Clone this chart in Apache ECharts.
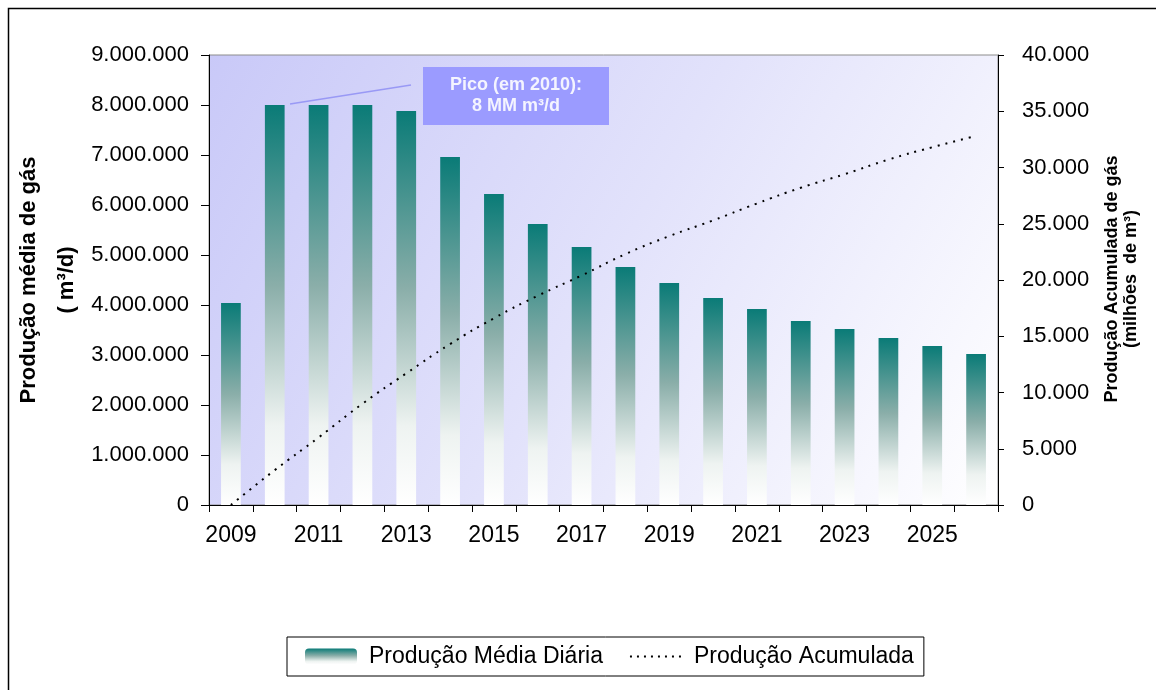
<!DOCTYPE html>
<html>
<head>
<meta charset="utf-8">
<script src="https://cdn.jsdelivr.net/npm/echarts@6/dist/echarts.min.js"></script>
<style>
html,body{margin:0;padding:0;background:#fff;}
#chart{width:1156px;height:690px;}
</style>
</head>
<body>
<div id="chart"></div>
<script>
const years = ['2009','2010','2011','2012','2013','2014','2015','2016','2017','2018','2019','2020','2021','2022','2023','2024','2025','2026'];
const dailyProduction = [4040000,8000000,8000000,8000000,7880000,6960000,6220000,5620000,5160000,4760000,4440000,4140000,3920000,3680000,3520000,3340000,3180000,3020000];
const cumulativeProduction = [0,3100,6000,9000,11700,14300,16600,18600,20400,22300,23900,25300,26800,28200,29400,30700,31800,32800];
const seriesNames = ['Produção Média Diária','Produção Acumulada'];
const leftTitle = 'Produção média de gás\n( m³/d)';
const rightTitle = 'Produção Acumulada de gás\n(milhões  de m³)';
const annotationText = 'Pico (em 2010):\n8 MM m³/d';

const FONT = '"Liberation Sans", Arial, sans-serif';
function dotFmt(v){ return String(Math.round(v)).replace(/\B(?=(\d{3})+(?!\d))/g,'.'); }

const chart = echarts.init(document.getElementById('chart'));
chart.setOption({
  animation:false,
  backgroundColor:'#ffffff',
  textStyle:{fontFamily:FONT},
  grid:{
    left:209, right:158, top:55, bottom:185, containLabel:false,
    show:true, borderColor:'#8c8c8c', borderWidth:1,
    backgroundColor:{type:'linear',x:0,y:0,x2:1,y2:1,colorStops:[
      {offset:0,color:'#c9c9f8'},{offset:0.5,color:'#e2e2fb'},{offset:1,color:'#ffffff'}]}
  },
  legend:{
    left:287, top:637,
    padding:[8,10,8,18],
    borderColor:'#000', borderWidth:1, borderRadius:0,
    backgroundColor:'#fff',
    itemWidth:52, itemHeight:16, itemGap:26,
    textStyle:{fontSize:23,color:'#000',fontFamily:FONT,padding:[0,0,0,7]},
    data:[{name:seriesNames[0]},{name:seriesNames[1],itemStyle:{opacity:0},lineStyle:{color:'#000',width:2,type:[2,5]}}]
  },
  xAxis:{
    type:'category', data:years, boundaryGap:true,
    axisLine:{lineStyle:{color:'#000',width:1}},
    axisTick:{show:true,length:7,lineStyle:{color:'#000'},alignWithLabel:false,interval:0},
    axisLabel:{interval:1,fontSize:23,color:'#000',margin:19,fontFamily:FONT},
    splitLine:{show:false}
  },
  yAxis:[{
    type:'value', min:0, max:9000000, interval:1000000,
    axisLine:{show:true,lineStyle:{color:'#000',width:1}},
    axisTick:{show:true,length:8,lineStyle:{color:'#000'}},
    axisLabel:{fontSize:22,color:'#000',margin:20,formatter:dotFmt,fontFamily:FONT},
    splitLine:{show:false}
  },{
    type:'value', min:0, max:40000, interval:5000, position:'right',
    axisLine:{show:true,lineStyle:{color:'#000',width:1}},
    axisTick:{show:true,length:6,lineStyle:{color:'#000'}},
    axisLabel:{fontSize:22,color:'#000',margin:24,formatter:dotFmt,fontFamily:FONT},
    splitLine:{show:false}
  }],
  series:[{
    name:seriesNames[0], type:'bar', yAxisIndex:0, data:dailyProduction,
    barWidth:'45%',
    itemStyle:{color:{type:'linear',x:0,y:0,x2:0,y2:1,colorStops:[
      {offset:0,color:'#0a7b77'},{offset:0.45,color:'#8aaea9'},{offset:0.8,color:'#eef3f1'},{offset:1,color:'#ffffff'}]}}
  },{
    name:seriesNames[1], type:'line', yAxisIndex:1, data:cumulativeProduction,
    smooth:true, symbol:'none', showSymbol:false,
    lineStyle:{color:'#000',width:2,type:[2,6]},
    itemStyle:{color:'#000'},
    z:5
  }],
  graphic:[
    {type:'rect',shape:{x:8.5,y:8.5,width:1300,height:800},style:{fill:'none',stroke:'#000',lineWidth:1.5},silent:true,z:-1},
    {type:'line',shape:{x1:290,y1:104,x2:411,y2:85},style:{stroke:'#9999f5',lineWidth:1.5},z:10},
    {type:'rect',shape:{x:423,y:67,width:186,height:58},style:{fill:'#9b9bff'},z:10},
    {type:'text',x:516,y:96,z:11,style:{text:annotationText,fill:'#f4f4ff',font:'bold 18px '+FONT,align:'center',verticalAlign:'middle',lineHeight:21}},
    {type:'text',x:48,y:280,rotation:Math.PI/2,z:11,style:{text:leftTitle,fill:'#000',font:'bold 22px '+FONT,align:'center',verticalAlign:'middle',lineHeight:38}},
    {type:'text',x:1122,y:279,rotation:Math.PI/2,z:11,style:{text:rightTitle,fill:'#000',font:'bold 18px '+FONT,align:'center',verticalAlign:'middle',lineHeight:19}}
  ]
});
</script>
</body>
</html>
